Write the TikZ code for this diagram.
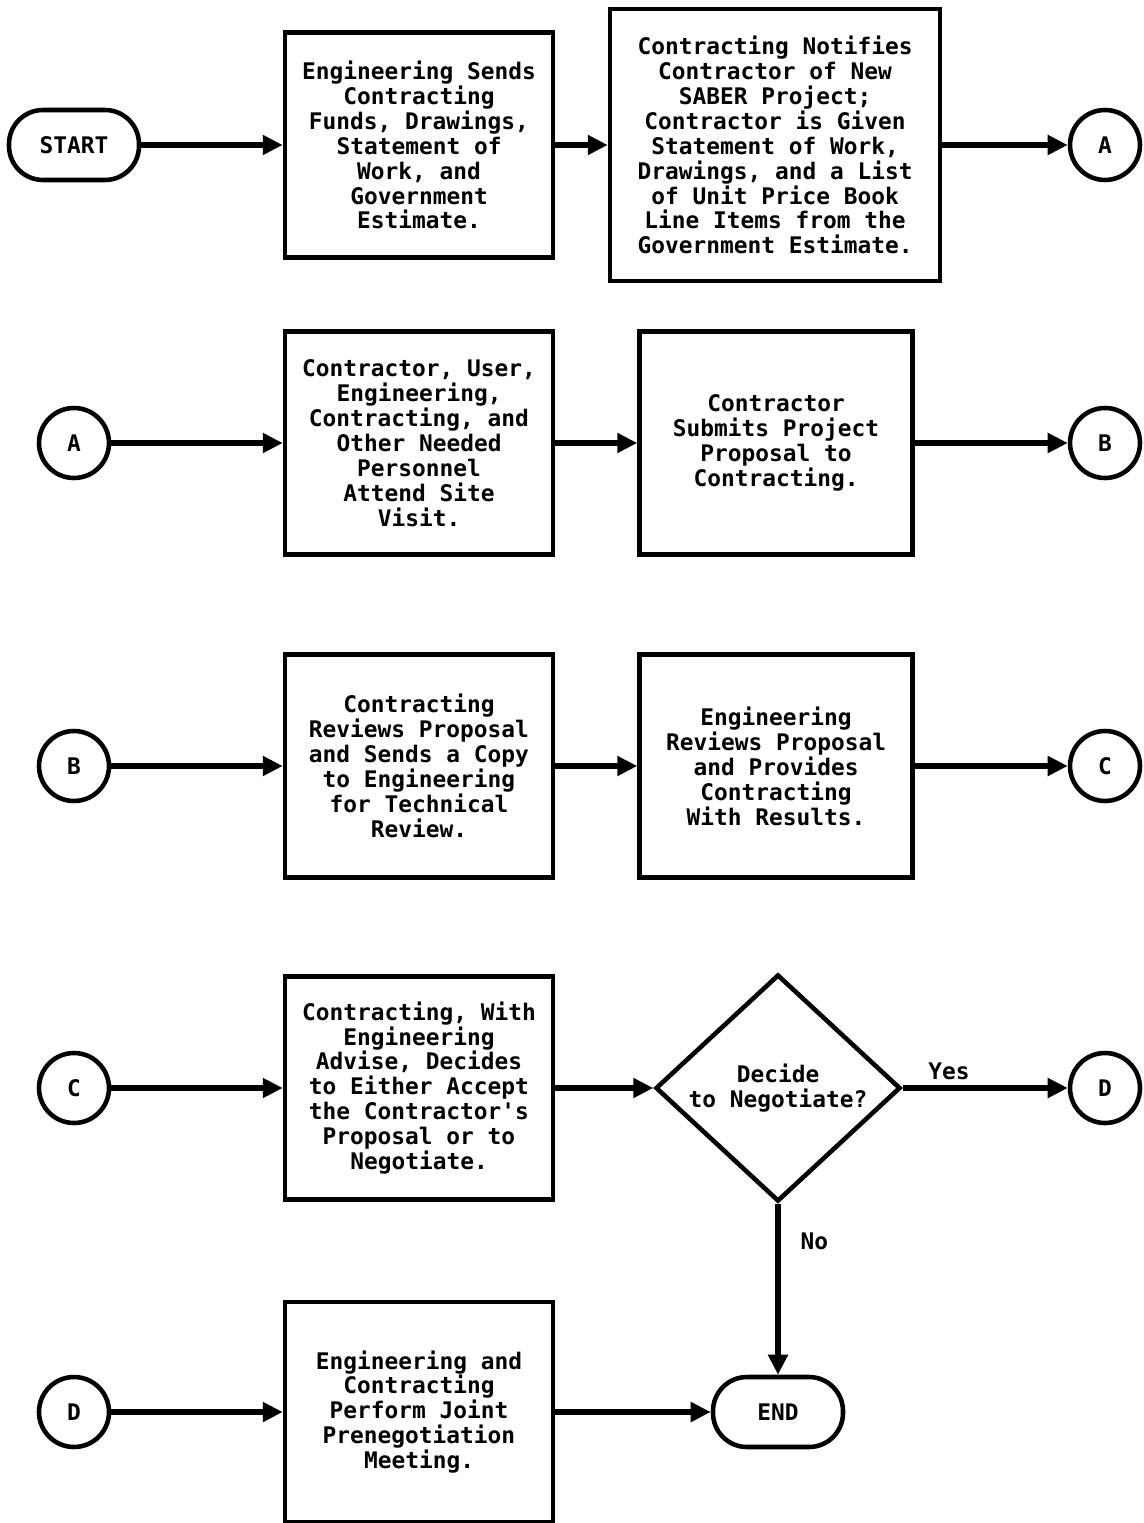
\documentclass[tikz,border=0pt]{standalone}
\usepackage{fontspec}
\newfontfamily\chartfont{DejaVu Sans Mono}
\usetikzlibrary{arrows.meta,positioning,shapes.geometric}

\begin{document}
\begin{tikzpicture}[
    x=0.02cm, y=-0.02cm,
    txt/.style={font=\chartfont\bfseries\fontsize{13}{14.2}\selectfont},
    box/.style={txt, draw, line width=2.6pt, align=center, minimum width=5.36cm, minimum height=4.46cm, inner sep=2pt},
    wide/.style={box, minimum width=6.6cm, minimum height=5.44cm},
    conn/.style={txt, draw, circle, line width=2.6pt, minimum size=1.4cm, inner sep=0pt},
    term/.style={txt, draw, rounded corners=0.68cm, line width=2.6pt, minimum width=2.6cm, minimum height=1.4cm},
    choice/.style={txt, draw, diamond, line width=2.6pt, align=center, minimum width=4.9cm, minimum height=4.34cm, inner sep=0pt},
    arrow/.style={-{Triangle[length=0.4cm, width=0.38cm]}, line width=3pt, txt}
]
\useasboundingbox (0,0) rectangle (1143,1523);

% row 1
\node[term] (start) at (74,145) {START};
\node[box, minimum height=4.5cm] (funds) at (419,145) {Engineering Sends\\Contracting\\Funds, Drawings,\\Statement of\\Work, and\\Government\\Estimate.};
\node[wide] (notify) at (775,145) {Contracting Notifies\\Contractor of New\\SABER Project;\\Contractor is Given\\Statement of Work,\\Drawings, and a List\\of Unit Price Book\\Line Items from the\\Government Estimate.};
\node[conn] (aout) at (1105,145) {A};

% row 2
\node[conn] (ain) at (74,443) {A};
\node[box] (visit) at (419,443) {Contractor, User,\\Engineering,\\Contracting, and\\Other Needed\\Personnel\\Attend Site\\Visit.};
\node[box, minimum width=5.46cm] (submit) at (776,443) {Contractor\\Submits Project\\Proposal to\\Contracting.};
\node[conn] (bout) at (1105,443) {B};

% row 3
\node[conn] (bin) at (74,766) {B};
\node[box] (review) at (419,766) {Contracting\\Reviews Proposal\\and Sends a Copy\\to Engineering\\for Technical\\Review.};
\node[box, minimum width=5.46cm] (engrev) at (776,766) {Engineering\\Reviews Proposal\\and Provides\\Contracting\\With Results.};
\node[conn] (cout) at (1105,766) {C};

% row 4
\node[conn] (cin) at (74,1088) {C};
\node[box] (decide) at (419,1088) {Contracting, With\\Engineering\\Advise, Decides\\to Either Accept\\the Contractor's\\Proposal or to\\Negotiate.};
\node[choice] (nego) at (778,1088) {Decide\\to Negotiate?};
\node[conn] (dout) at (1105,1088) {D};

% row 5
\node[conn] (din) at (74,1412) {D};
\node[box, minimum height=4.4cm] (prenego) at (419,1412) {Engineering and\\Contracting\\Perform Joint\\Prenegotiation\\Meeting.};
\node[term] (finish) at (778,1412) {END};

\draw[arrow] (start) -- (funds);
\draw[arrow] (funds) -- (notify);
\draw[arrow] (notify) -- (aout);
\draw[arrow] (ain) -- (visit);
\draw[arrow] (visit) -- (submit);
\draw[arrow] (submit) -- (bout);
\draw[arrow] (bin) -- (review);
\draw[arrow] (review) -- (engrev);
\draw[arrow] (engrev) -- (cout);
\draw[arrow] (cin) -- (decide);
\draw[arrow] (decide) -- (nego);
\draw[arrow] (nego) -- node[above, pos=0.28] {Yes} (dout);
\draw[arrow] (nego) -- node[right, pos=0.22, xshift=8pt] {No} (finish);
\draw[arrow] (din) -- (prenego);
\draw[arrow] (prenego) -- (finish);
\end{tikzpicture}
\end{document}
